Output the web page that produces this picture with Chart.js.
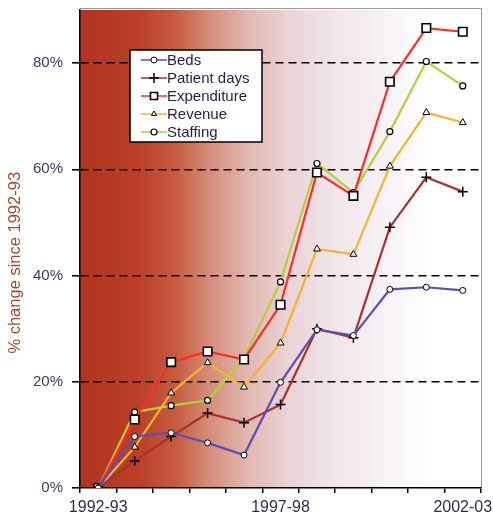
<!DOCTYPE html>
<html>
<head>
<meta charset="utf-8">
<script src="https://cdn.jsdelivr.net/npm/chart.js@4/dist/chart.umd.min.js"></script>
<style>
  html, body { margin: 0; padding: 0; background: #ffffff; }
  #wrap { width: 493px; height: 525px; position: relative; }
</style>
</head>
<body>
<div id="wrap"><canvas id="c" width="493" height="525"></canvas></div>
<script>
// ---- data ----
const years = ['1992-93','1993-94','1994-95','1995-96','1996-97','1997-98','1998-99','1999-00','2000-01','2001-02','2002-03'];
const shownYears = ['1992-93','1997-98','2002-03'];
const beds        = [0, 9.7, 10.4, 8.5, 6.2, 19.9, 29.8, 28.7, 37.4, 37.8, 37.2];
const patientDays = [0, 5.1, 9.7, 14.1, 12.3, 15.7, 30.0, 28.3, 49.1, 58.5, 55.8];
const expenditure = [0, 12.9, 23.7, 25.7, 24.2, 34.5, 59.4, 55.0, 76.5, 86.6, 85.9];
const revenue     = [0, 7.7, 17.9, 23.6, 19.0, 27.3, 45.0, 44.0, 60.6, 70.7, 68.8];
const staffing    = [0, 14.3, 15.5, 16.5, 24.4, 38.8, 61.1, 55.6, 67.1, 80.3, 75.7];
const yTicks = [0, 20, 40, 60, 80];
const yTitle = '% change since 1992-93';

const FONT = '"Liberation Sans", Arial, sans-serif';

function ds(label, data, color, style, radius, bw) {
  return {
    label, data,
    borderColor: color, backgroundColor: color,
    borderWidth: 2.2, tension: 0,
    pointStyle: style, pointRadius: radius, pointHoverRadius: radius,
    pointBackgroundColor: '#ffffff', pointBorderColor: '#000000',
    pointBorderWidth: bw
  };
}

const datasets = [
  ds('Beds', beds, '#5a4fb4', 'circle', 3, 1),
  ds('Patient days', patientDays, '#a8302e', 'cross', 5, 1.5),
  ds('Expenditure', expenditure, '#ff2b2b', 'rect', 6, 1.6),
  ds('Revenue', revenue, '#f4b42c', 'triangle', 4, 1),
  ds('Staffing', staffing, '#b6cf38', 'circle', 3, 1.2)
];

const bgPlugin = {
  id: 'bg',
  beforeDraw(chart) {
    const {ctx, chartArea: a} = chart;
    const g = ctx.createLinearGradient(a.left, 0, a.right, 0);
    g.addColorStop(0, '#b0341e');
    g.addColorStop(0.15, '#bb4027');
    g.addColorStop(0.24, '#c65c42');
    g.addColorStop(0.32, '#d48c78');
    g.addColorStop(0.42, '#e2b8b2');
    g.addColorStop(0.52, '#ead3d6');
    g.addColorStop(0.64, '#f1e6eb');
    g.addColorStop(0.78, '#f8f4f7');
    g.addColorStop(0.88, '#ffffff');
    g.addColorStop(1, '#ffffff');
    ctx.save();
    ctx.fillStyle = g;
    ctx.fillRect(a.left, a.top, a.right - a.left, a.bottom - a.top);
    ctx.strokeStyle = '#9a9a9a';
    ctx.lineWidth = 1;
    ctx.beginPath();
    ctx.moveTo(a.left, a.top - 1.5);
    ctx.lineTo(a.right + 0.5, a.top - 1.5);
    ctx.lineTo(a.right + 0.5, a.bottom);
    ctx.stroke();
    ctx.restore();
  }
};

function marker(ctx, style, x, y, r, bw) {
  ctx.save();
  ctx.lineWidth = bw;
  ctx.strokeStyle = '#000';
  ctx.fillStyle = '#fff';
  ctx.beginPath();
  if (style === 'circle') {
    ctx.arc(x, y, r, 0, Math.PI * 2);
    ctx.fill(); ctx.stroke();
  } else if (style === 'rect') {
    const s = r * Math.SQRT1_2;
    ctx.rect(x - s, y - s, 2 * s, 2 * s);
    ctx.fill(); ctx.stroke();
  } else if (style === 'triangle') {
    ctx.moveTo(x, y - r);
    ctx.lineTo(x + r * 0.87, y + r * 0.5);
    ctx.lineTo(x - r * 0.87, y + r * 0.5);
    ctx.closePath();
    ctx.fill(); ctx.stroke();
  } else if (style === 'cross') {
    ctx.moveTo(x - r, y); ctx.lineTo(x + r, y);
    ctx.moveTo(x, y - r); ctx.lineTo(x, y + r);
    ctx.stroke();
  }
  ctx.restore();
}

const legendPlugin = {
  id: 'boxLegend',
  afterDatasetsDraw(chart) {
    const ctx = chart.ctx;
    const bx = 130, by = 50, bw = 132, bh = 92;
    ctx.save();
    ctx.fillStyle = '#ffffff';
    ctx.fillRect(bx, by, bw, bh);
    ctx.strokeStyle = '#000';
    ctx.lineWidth = 1.5;
    ctx.strokeRect(bx, by, bw, bh);
    ctx.font = '15px ' + FONT;
    ctx.textBaseline = 'middle';
    ctx.textAlign = 'left';
    chart.data.datasets.forEach((d, i) => {
      const y = by + 10 + i * 18;
      ctx.strokeStyle = d.borderColor;
      ctx.lineWidth = 1.5;
      ctx.beginPath();
      ctx.moveTo(bx + 11, y);
      ctx.lineTo(bx + 37, y);
      ctx.stroke();
      const r = d.pointStyle === 'rect' ? 5 : (d.pointStyle === 'cross' ? 5 : 3);
      marker(ctx, d.pointStyle, bx + 24, y, r, d.pointBorderWidth);
      ctx.fillStyle = '#1f1f48';
      ctx.fillText(d.label, bx + 37, y + 1);
    });
    ctx.restore();
  }
};

new Chart(document.getElementById('c'), {
  type: 'line',
  data: { labels: years, datasets },
  plugins: [bgPlugin, legendPlugin],
  options: {
    responsive: false,
    animation: false,
    layout: { padding: { top: 10, right: 12, left: 0, bottom: 0 } },
    plugins: { legend: { display: false }, tooltip: { enabled: false } },
    scales: {
      x: {
        type: 'category',
        offset: true,
        grid: { offset: true, drawOnChartArea: false, color: '#000', tickLength: 5, lineWidth: 1.5 },
        border: { color: '#000', width: 1.5 },
        ticks: {
          autoSkip: false, maxRotation: 0, minRotation: 0, padding: 5,
          color: '#2d2b58',
          font: { family: FONT, size: 16 },
          callback: function (v, i) { const l = years[i]; return shownYears.includes(l) ? l : ''; }
        },
        afterFit(s) { s.height = 37; s.paddingLeft = 0; s.paddingRight = 0; }
      },
      y: {
        min: 0, max: 90,
        grid: {
          color: (c) => (c.tick && c.tick.value === 0) ? 'rgba(0,0,0,0)' : '#000',
          tickColor: '#000', tickLength: 8, lineWidth: 1.6, tickBorderDash: []
        },
        border: { color: '#000', width: 1.5, dash: [8, 5] },
        afterBuildTicks(s) { s.ticks = yTicks.map(v => ({ value: v })); },
        ticks: {
          padding: 9,
          color: '#3a3a62',
          font: { family: FONT, size: 15 },
          callback: (v) => v + '%'
        },
        title: {
          display: true, text: yTitle + '      ',
          color: '#a4472c',
          font: { family: FONT, size: 16.5 },
          padding: { top: 6, bottom: 0 }
        },
        afterFit(s) { s.width = 80; s.paddingTop = 0; s.paddingBottom = 0; }
      }
    }
  }
});
</script>
</body>
</html>
